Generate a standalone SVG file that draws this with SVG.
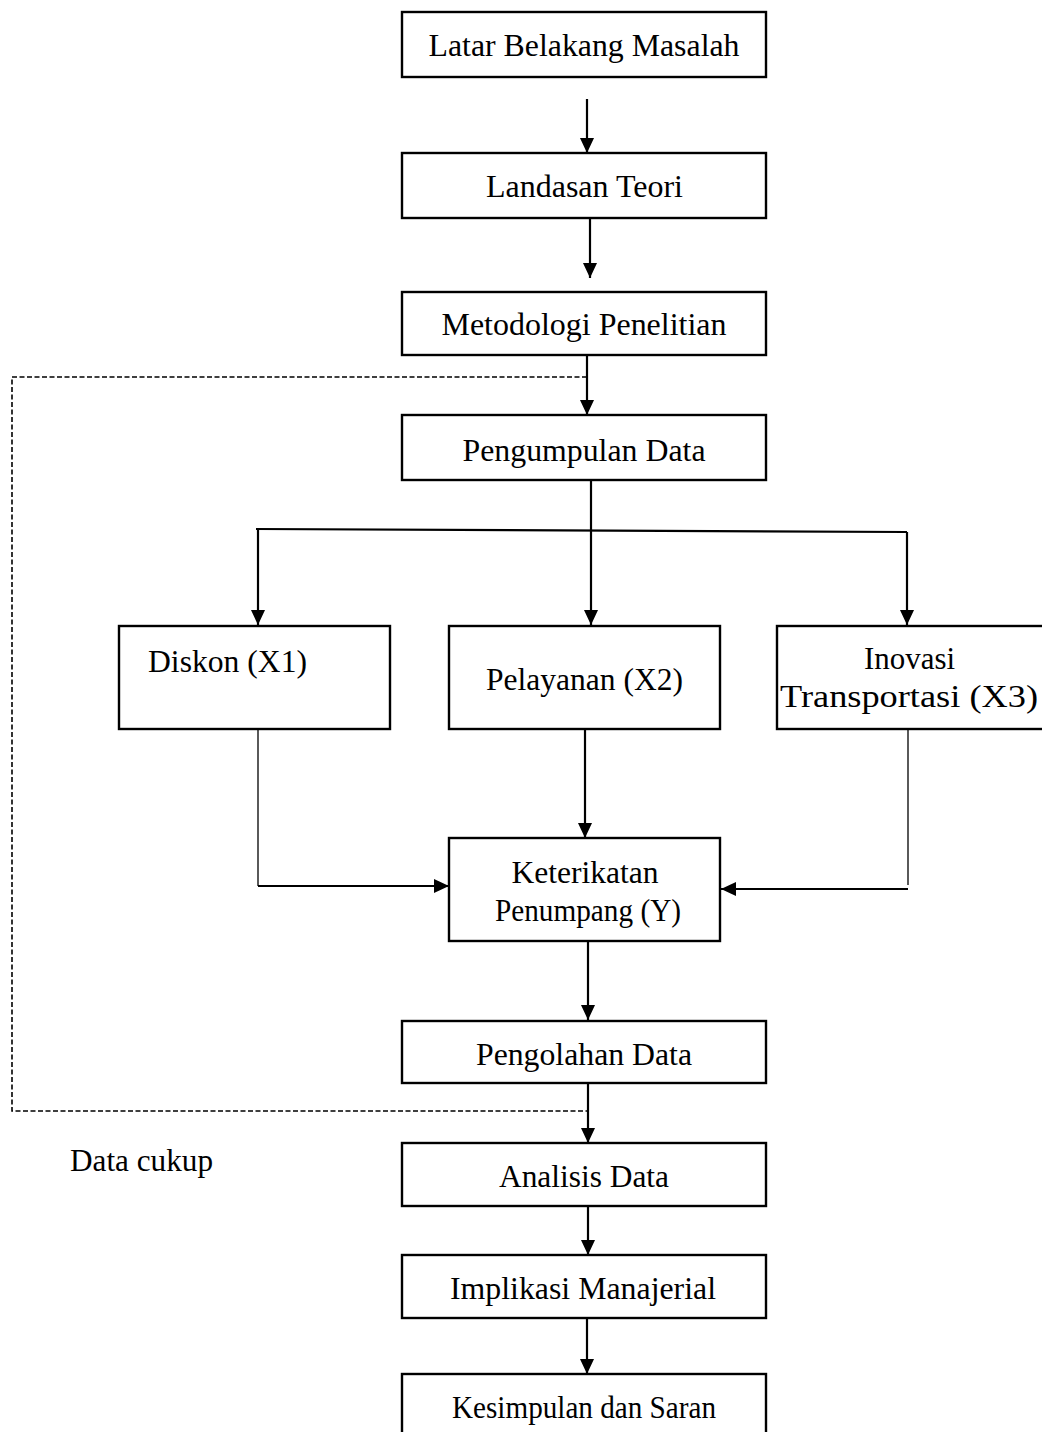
<svg xmlns="http://www.w3.org/2000/svg" width="1042" height="1432" viewBox="0 0 1042 1432">
<style>
.box{fill:#fff;stroke:#000;stroke-width:2.4}
.t{font-family:"Liberation Serif","Times New Roman",serif;font-size:32px;fill:#000;text-anchor:middle}
.c{fill:none;stroke:#000;stroke-width:2.2}
.thin{fill:none;stroke:#000;stroke-width:1.3}
.dash{fill:none;stroke:#000;stroke-width:1.6;stroke-dasharray:5 2.5}
</style>
<defs>
<marker id="ah" viewBox="0 0 15 14" refX="15" refY="7" markerWidth="15" markerHeight="15" markerUnits="userSpaceOnUse" orient="auto">
<path d="M0,0 L15,7 L0,14 z" fill="#000"/>
</marker>
</defs>
<rect width="1042" height="1432" fill="#fff"/>
<g id="connectors">
<path class="c" d="M587,99 V153" marker-end="url(#ah)"/>
<path class="c" d="M590,218 V278" marker-end="url(#ah)"/>
<path class="c" d="M587,355 V415" marker-end="url(#ah)"/>
<path class="dash" d="M587,377 H12 V1111 H587"/>
<path class="c" d="M591,480 V529"/>
<path class="c" d="M256,529 L907,532"/>
<path class="c" d="M258,529 V625" marker-end="url(#ah)"/>
<path class="c" d="M591,529 V625" marker-end="url(#ah)"/>
<path class="c" d="M907,532 V625" marker-end="url(#ah)"/>
<path class="thin" d="M258,729 V886"/>
<path class="c" d="M258,886 H449" marker-end="url(#ah)"/>
<path class="c" d="M585,729 V838" marker-end="url(#ah)"/>
<path class="thin" d="M908,729 V885"/>
<path class="c" d="M908,889 H721" marker-end="url(#ah)"/>
<path class="c" d="M588,941 V1020" marker-end="url(#ah)"/>
<path class="c" d="M588,1083 V1143" marker-end="url(#ah)"/>
<path class="c" d="M588,1206 V1255" marker-end="url(#ah)"/>
<path class="c" d="M587,1318 V1374" marker-end="url(#ah)"/>
</g>
<g id="n1"><rect class="box" x="402" y="12" width="364" height="65"/><text class="t" x="584" y="56" textLength="311" lengthAdjust="spacingAndGlyphs">Latar Belakang Masalah</text></g>
<g id="n2"><rect class="box" x="402" y="153" width="364" height="65"/><text class="t" x="584.5" y="197" textLength="197" lengthAdjust="spacingAndGlyphs">Landasan Teori</text></g>
<g id="n3"><rect class="box" x="402" y="292" width="364" height="63"/><text class="t" x="584" y="335" textLength="285" lengthAdjust="spacingAndGlyphs">Metodologi Penelitian</text></g>
<g id="n4"><rect class="box" x="402" y="415" width="364" height="65"/><text class="t" x="584" y="461" textLength="243" lengthAdjust="spacingAndGlyphs">Pengumpulan Data</text></g>
<g id="n5"><rect class="box" x="119" y="626" width="271" height="103"/><text class="t" x="227.5" y="672" textLength="159" lengthAdjust="spacingAndGlyphs">Diskon (X1)</text></g>
<g id="n6"><rect class="box" x="449" y="626" width="271" height="103"/><text class="t" x="584.5" y="690" textLength="197" lengthAdjust="spacingAndGlyphs">Pelayanan (X2)</text></g>
<g id="n7"><rect class="box" x="777" y="626" width="270" height="103"/><text class="t" x="909.5" y="669" textLength="91" lengthAdjust="spacingAndGlyphs">Inovasi</text><text class="t" x="909" y="707" textLength="258" lengthAdjust="spacingAndGlyphs">Transportasi (X3)</text></g>
<g id="n8"><rect class="box" x="449" y="838" width="271" height="103"/><text class="t" x="585" y="883" textLength="147" lengthAdjust="spacingAndGlyphs">Keterikatan</text><text class="t" x="588" y="921" textLength="186" lengthAdjust="spacingAndGlyphs">Penumpang (Y)</text></g>
<g id="n9"><rect class="box" x="402" y="1021" width="364" height="62"/><text class="t" x="584" y="1065" textLength="216" lengthAdjust="spacingAndGlyphs">Pengolahan Data</text></g>
<g id="n10"><text class="t" x="141.5" y="1171" textLength="143" lengthAdjust="spacingAndGlyphs">Data cukup</text></g>
<g id="n11"><rect class="box" x="402" y="1143" width="364" height="63"/><text class="t" x="584" y="1187" textLength="170" lengthAdjust="spacingAndGlyphs">Analisis Data</text></g>
<g id="n12"><rect class="box" x="402" y="1255" width="364" height="63"/><text class="t" x="583" y="1299" textLength="266" lengthAdjust="spacingAndGlyphs">Implikasi Manajerial</text></g>
<g id="n13"><rect class="box" x="402" y="1374" width="364" height="70"/><text class="t" x="584" y="1418" textLength="264" lengthAdjust="spacingAndGlyphs">Kesimpulan dan Saran</text></g>
</svg>
